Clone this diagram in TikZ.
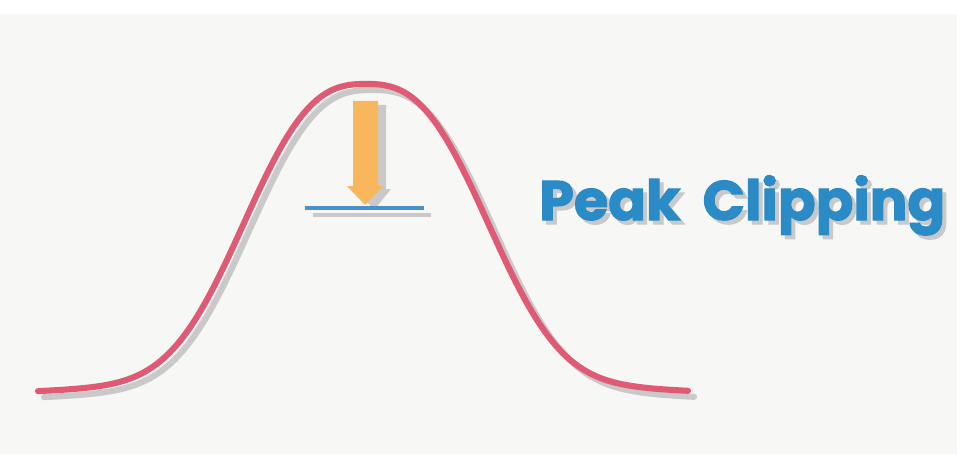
\documentclass[tikz,border=0pt]{standalone}
\usepackage{fontspec}
\setmainfont{Poppins}[BoldFont=* Bold, BoldFeatures={FakeBold=2}]
\definecolor{bgc}{HTML}{F7F7F5}
\definecolor{curvec}{HTML}{E05A74}
\definecolor{shadowc}{HTML}{C9C9C9}
\definecolor{arrowc}{HTML}{F8B75C}
\definecolor{barc}{HTML}{4A8FC6}
\definecolor{textc}{HTML}{2A8BC6}
\tikzset{
  curveline/.style={line width=5.2pt, line cap=round},
  barline/.style={line width=4.2pt},
  titletext/.style={font=\bfseries\fontsize{47.5}{54}\selectfont, anchor=base west, inner sep=0pt}
}
\begin{document}
\begin{tikzpicture}[x=0.03cm, y=-0.03cm]
\useasboundingbox (0,0) rectangle (957,454);
\fill[bgc] (0,14) rectangle (957,454);
% shadow of curve
\draw[curveline, shadowc] plot[domain=38:688, samples=160, smooth] ({\x+6}, {401 - 286*exp(-((abs(\x-366)+0.01)/145)^2.7) - 25*exp(-((\x-366)/240)^2)});
% curve
\draw[curveline, curvec] plot[domain=38:688, samples=160, smooth] (\x, {395 - 286*exp(-((abs(\x-366)+0.01)/145)^2.7) - 25*exp(-((\x-366)/240)^2)});
% bar shadow
\draw[barline, shadowc] (313,215) -- (431,215);
% arrow shadow
\fill[shadowc] (361,105) -- (386,105) -- (386,189) -- (391,189) -- (374,210) -- (356,189) -- (361,189) -- cycle;
% arrow
\fill[arrowc] (353,101) -- (378,101) -- (378,186) -- (383,186) -- (365,205) -- (347,186) -- (353,186) -- cycle;
% bar
\draw[barline, barc] (305,208) -- (424,208);
% title
\node[titletext, shadowc] (titleshadow) at (543,224) {Peak\hspace{0.4em}Clipping};
\node[titletext, textc] (title) at (539,220) {Peak\hspace{0.4em}Clipping};
\end{tikzpicture}
\end{document}
